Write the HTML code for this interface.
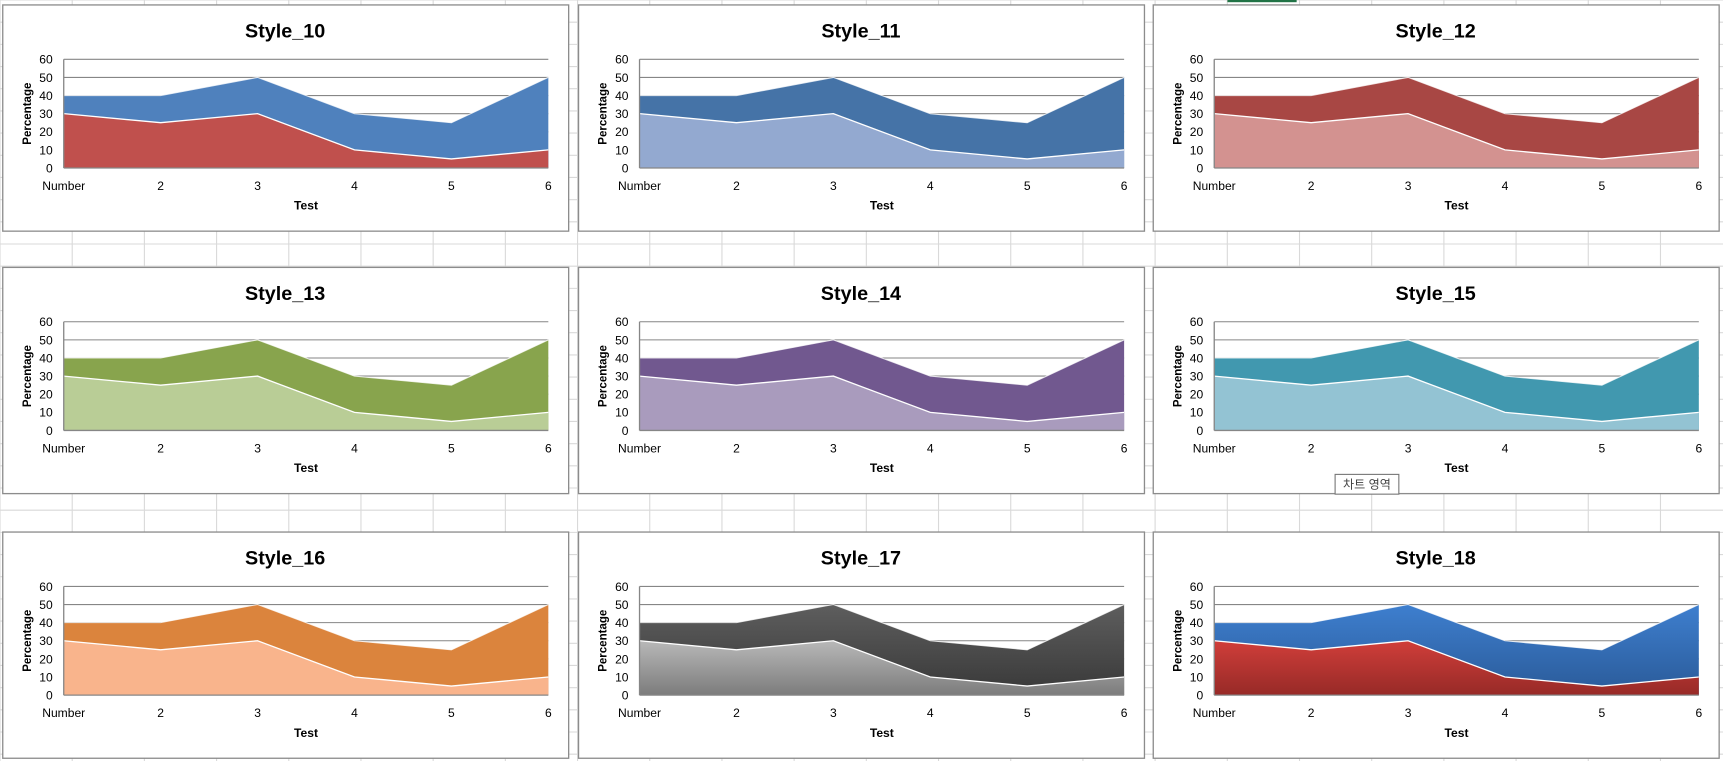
<!DOCTYPE html>
<html><head><meta charset="utf-8"><style>
html,body{margin:0;padding:0;background:#fff;overflow:hidden}
svg{display:block;font-family:"Liberation Sans","Noto Sans CJK KR",sans-serif}
</style></head><body>
<svg id="root" width="1723" height="761" viewBox="0 0 1568 693" preserveAspectRatio="none" xmlns="http://www.w3.org/2000/svg">
<defs>
<linearGradient id="g17b" x1="0" y1="0" x2="0" y2="1"><stop offset="0" stop-color="#5e5e5e"/><stop offset="1" stop-color="#383838"/></linearGradient>
<linearGradient id="g17f" x1="0" y1="0" x2="0" y2="1"><stop offset="0" stop-color="#b8b8b8"/><stop offset="1" stop-color="#7c7c7c"/></linearGradient>
<linearGradient id="g18b" x1="0" y1="0" x2="0" y2="1"><stop offset="0" stop-color="#3e7fcf"/><stop offset="1" stop-color="#2a5a98"/></linearGradient>
<linearGradient id="g18f" x1="0" y1="0" x2="0" y2="1"><stop offset="0" stop-color="#d03e3a"/><stop offset="1" stop-color="#972a27"/></linearGradient>
</defs>
<g id="grid"></g>
<rect x="1117" y="0" width="63" height="2" fill="#217346"/>
<g id="charts"></g>
<g>
<rect x="1215" y="432" width="58" height="18" fill="#fff" stroke="#767676" stroke-width="1"/>
<text x="1244" y="445" font-size="11" text-anchor="middle" fill="#444">차트 영역</text>
</g>
</svg>
<script>
const categories = ["Number","2","3","4","5","6"];
const seriesBack = [40,40,50,30,25,50];
const seriesFront = [30,25,30,10,5,10];
const yTicks = [0,10,20,30,40,50,60];
const titles = ["Style_10","Style_11","Style_12","Style_13","Style_14","Style_15","Style_16","Style_17","Style_18"];
const backColors = ["#4F81BD","#4573A7","#A84744","#88A44D","#71588F","#4198AF","#DB843D","url(#g17b)","url(#g18b)"];
const frontColors = ["#C0504D","#93A9D0","#D39290","#B9CD96","#A99BBD","#93C3D3","#F9B48C","url(#g17f)","url(#g18f)"];

const NS="http://www.w3.org/2000/svg";
function mk(tag,attrs,parent){const e=document.createElementNS(NS,tag);for(const k in attrs)e.setAttribute(k,attrs[k]);parent.appendChild(e);return e;}

// spreadsheet grid
const grid=document.getElementById('grid');
for(let x=0;x<1568;x+=65.7){const l=mk('line',{x1:x,y1:0,x2:x,y2:693,stroke:'#d9d9d9','stroke-width':1},grid);}
for(let y=0;y<693;y+=20.2){mk('line',{x1:0,y1:y,x2:1568,y2:y,stroke:'#d9d9d9','stroke-width':1},grid);}

const colX=[2,526,1049], rowY=[4,243,484];
const W=515,H=206, PL=56, PR=497, PT=50, PB=149;
const yMax=60;
function sx(i){return PL+(PR-PL)*i/(categories.length-1);}
function sy(v){return PB-(PB-PT)*v/yMax;}
function areaPath(vals){let d='M'+sx(0)+','+sy(0);vals.forEach((v,i)=>{d+=' L'+sx(i)+','+sy(v);});d+=' L'+sx(vals.length-1)+','+sy(0)+' Z';return d;}
function linePath(vals){return vals.map((v,i)=>(i?'L':'M')+sx(i)+','+sy(v)).join(' ');}

const charts=document.getElementById('charts');
titles.forEach((t,k)=>{
  const g=mk('g',{transform:`translate(${colX[k%3]},${rowY[Math.floor(k/3)]})`},charts);
  
  
  const bg=mk('rect',{x:0.5,y:0.5,width:W,height:H,fill:'#fff',stroke:'#8c8c8c','stroke-width':1.2},g);
  
  
  const tt=mk('text',{x:W/2,y:30,'font-size':18,'font-weight':'bold','text-anchor':'middle',fill:'#000'},g);
  tt.textContent=t;
  
  
  // gridlines
  yTicks.forEach(v=>{
    if(v>0){const gl=mk('line',{x1:PL,y1:sy(v),x2:PR,y2:sy(v),stroke:'#868686','stroke-width':1},g);
      
      }
    const lb=mk('text',{x:PL-10,y:sy(v)+4,'font-size':11,'text-anchor':'end',fill:'#000'},g);
    lb.textContent=v;
    
    
  });
  const back=mk('path',{d:areaPath(seriesBack),fill:backColors[k]},g);
  
  
  mk('path',{d:linePath(seriesBack),fill:'none',stroke:'#fff','stroke-width':1,opacity:0.8},g);
  const front=mk('path',{d:areaPath(seriesFront),fill:frontColors[k]},g);
  
  
  mk('path',{d:linePath(seriesFront),fill:'none',stroke:'#fff','stroke-width':1.2},g);
  // axes
  const ax=mk('line',{x1:PL,y1:PB,x2:PR,y2:PB,stroke:'#868686','stroke-width':1.2},g);
  
  
  const ay=mk('line',{x1:PL,y1:PT,x2:PL,y2:PB,stroke:'#868686','stroke-width':1.2},g);
  
  
  categories.forEach((c,i)=>{
    const xl=mk('text',{x:sx(i),y:169,'font-size':11,'text-anchor':'middle',fill:'#000'},g);
    xl.textContent=c;
    
    
  });
  const xt=mk('text',{x:(PL+PR)/2,y:187,'font-size':11,'font-weight':'bold','text-anchor':'middle',fill:'#000'},g);
  xt.textContent='Test';
  
  
  const yt=mk('text',{x:0,y:0,'font-size':10.5,'font-weight':'bold','text-anchor':'middle',fill:'#000',transform:`translate(26,${(PT+PB)/2}) rotate(-90)`},g);
  yt.textContent='Percentage';
  
  
});
</script>
</body></html>
